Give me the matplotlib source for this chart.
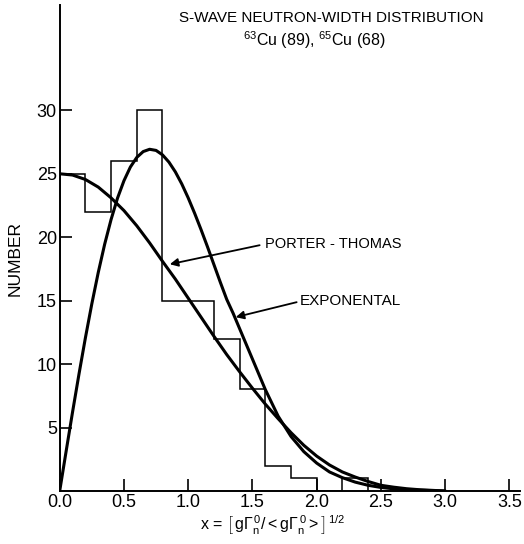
#!/usr/bin/env python3
import numpy as np
import matplotlib
matplotlib.use('agg')
import matplotlib.pyplot as plt

#---------------- data -----------------------------------------

bin_edges = [0.0, 0.2, 0.4, 0.6, 0.8, 1.0, 1.2, 1.4, 1.6, 1.8, 2.0, 2.2, 2.4]
counts    = [25, 22, 26, 30, 15, 15, 12, 8, 2, 1, 0, 1]

# porter-thomas curve
pt_x = [0.0, 0.1, 0.2, 0.3, 0.4, 0.5, 0.6, 0.7, 0.8, 0.9, 1.0, 1.1, 1.2, 1.3, 1.4, 1.5,
        1.6, 1.7, 1.8, 1.9, 2.0, 2.1, 2.2, 2.3, 2.4, 2.5, 2.6, 2.7, 2.8, 2.9, 3.0]
pt_y = [25.0, 24.9, 24.55, 23.95, 23.1, 22.1, 20.9, 19.55, 18.1, 16.7, 15.2, 13.7, 12.2,
        10.75, 9.4, 8.1, 6.85, 5.7, 4.6, 3.6, 2.75, 2.05, 1.5, 1.1, 0.75, 0.45, 0.3, 0.18,
        0.1, 0.05, 0.0]

# exponential curve
ex_x = [0.0, 0.05, 0.1, 0.15, 0.2, 0.25, 0.3, 0.35, 0.4, 0.45, 0.5, 0.55, 0.6, 0.65, 0.7,
        0.75, 0.8, 0.85, 0.9, 0.95, 1.0, 1.05, 1.1, 1.15, 1.2, 1.25, 1.3, 1.35, 1.4, 1.45,
        1.5, 1.6, 1.7, 1.8, 1.9, 2.0, 2.1, 2.2, 2.3, 2.4, 2.5, 2.6, 2.7, 2.8, 2.9, 3.0]
ex_y = [0.0, 3.13, 6.22, 9.21, 12.07, 14.75, 17.22, 19.45, 21.4, 23.08, 24.45, 25.53,
        26.29, 26.75, 26.93, 26.84, 26.49, 25.92, 25.15, 24.2, 23.1, 21.89, 20.6, 19.25,
        17.85, 16.45, 15.1, 14.0, 12.8, 11.6, 10.4, 8.0, 5.9, 4.3, 3.1, 2.2, 1.5, 1.05,
        0.7, 0.45, 0.28, 0.17, 0.1, 0.06, 0.03, 0.0]

xticks = [0.0, 0.5, 1.0, 1.5, 2.0, 2.5, 3.0, 3.5]
xticklabels = ['0.0', '0.5', '1.0', '1.5', '2.0', '2.5', '3.0', '3.5']
yticks = [5, 10, 15, 20, 25, 30]

#-------------- plotting

plt.rcParams['font.family'] = ['Liberation Sans', 'DejaVu Sans']
plt.rcParams['mathtext.fontset'] = 'custom'
plt.rcParams['mathtext.rm'] = 'Liberation Sans'
plt.rcParams['mathtext.it'] = 'Liberation Sans'

fig = plt.figure(figsize=(5.24, 5.44), dpi=100)
ax = fig.add_axes([59.7/524, 53/544, 460/524, 486/544])

ax.stairs(counts, bin_edges, color='black', lw=1.1)
ax.plot(pt_x, pt_y, color='black', lw=2.2, solid_capstyle='round')
ax.plot(ex_x, ex_y, color='black', lw=2.2, solid_capstyle='round')

ax.set_xlim(0, 3.58)
ax.set_ylim(0, 38.3)
for s in ['top', 'right']:
  ax.spines[s].set_visible(False)
for s in ['left', 'bottom']:
  ax.spines[s].set_linewidth(1.4)

ax.set_xticks(xticks)
ax.set_xticklabels(xticklabels)
ax.set_yticks(yticks)
ax.tick_params(direction='in', length=8.5, width=1.2, labelsize=13, pad=2)

# curve labels
ax.annotate('', xy=(0.857, 17.87), xytext=(1.556, 19.37),
  arrowprops=dict(arrowstyle='-|>', lw=1.3, color='black', mutation_scale=12, shrinkA=0, shrinkB=0))
ax.text(1.595, 19.5, 'PORTER - THOMAS', fontsize=10.5, ha='left', va='center')
ax.annotate('', xy=(1.370, 13.70), xytext=(1.844, 14.88),
  arrowprops=dict(arrowstyle='-|>', lw=1.3, color='black', mutation_scale=12, shrinkA=0, shrinkB=0))
ax.text(1.867, 14.96, 'EXPONENTAL', fontsize=11, ha='left', va='center')

# titles and axis labels
fig.text(331/524, 1 - 18/544, 'S-WAVE NEUTRON-WIDTH DISTRIBUTION', fontsize=11, ha='center', va='center')
fig.text(243/524, 1 - 40/544, r'$^{63}$Cu (89), $^{65}$Cu (68)', fontsize=11.5, ha='left', va='center')
fig.text(15/524, 1 - 258/544, 'NUMBER', fontsize=12.5, rotation=90, ha='center', va='center')
fig.text(200/524, 1 - 525/544,
  r'x = $\left[\,\mathrm{g\Gamma_n^{\,0}} / < \mathrm{g\Gamma_n^{\,0}} > \right]^{\,1/2}$',
  fontsize=11.5, ha='left', va='center')

plt.savefig('out.png', dpi=100)
plt.close('all')
